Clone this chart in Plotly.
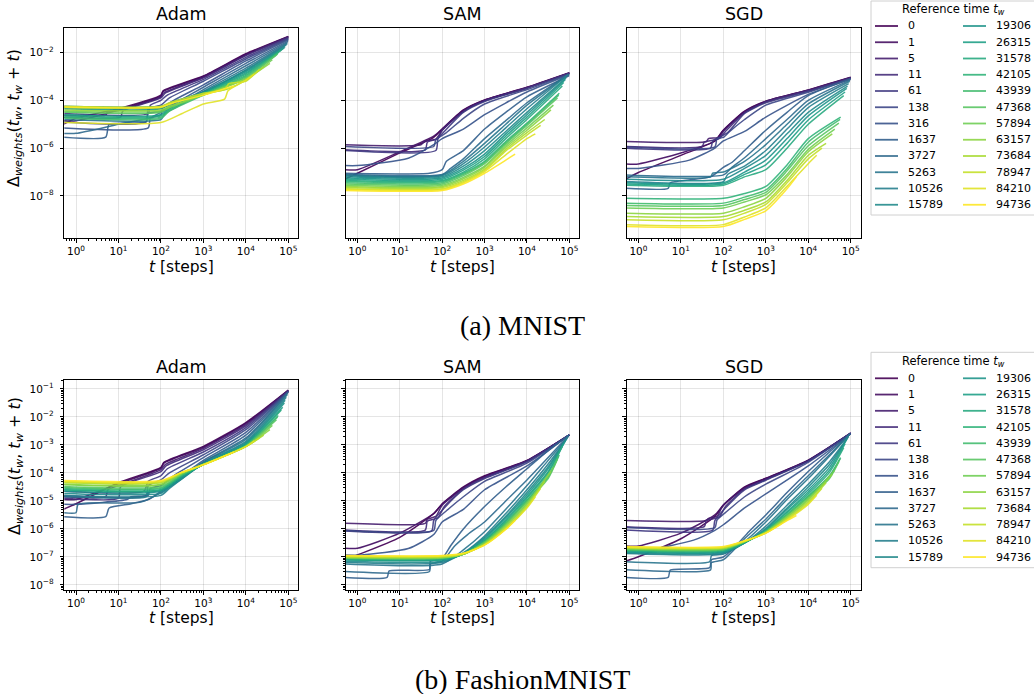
import plotly.graph_objects as go
from plotly.colors import sample_colorscale

# Reference times (legend labels)
TW = [0, 1, 5, 11, 61, 138, 316, 1637, 3727, 5263, 10526, 15789, 19306,
      26315, 31578, 42105, 43939, 47368, 57894, 63157, 73684, 78947, 84210, 94736]

# Each curve: knots (log10 t, log10 Delta), one curve per reference time
MNIST_ADAM = [
    [(-0.3,-5.0),(0,-4.75),(1,-4.35),(2,-3.78),(2.05,-3.6),(3,-2.98),(4,-2.05),(5,-1.32)],
    [(-0.3,-4.85),(0,-4.85),(1,-4.4),(2,-3.82),(2.05,-3.63),(3,-3.0),(4,-2.08),(5,-1.33)],
    [(-0.3,-4.62),(0.7,-4.62),(0.75,-4.45),(1,-4.42),(2,-3.85),(2.07,-3.68),(3,-3.03),(4,-2.1),(5,-1.35)],
    [(-0.3,-4.7),(1.05,-4.7),(1.1,-4.45),(2,-3.9),(2.1,-3.7),(3,-3.06),(4,-2.13),(5,-1.37)],
    [(-0.3,-4.55),(1.7,-4.55),(1.75,-4.2),(2,-4.0),(2.15,-3.78),(3,-3.12),(4,-2.2),(5,-1.4)],
    [(-0.3,-4.9),(1.65,-4.9),(1.7,-4.35),(2,-4.2),(2.2,-3.9),(3,-3.2),(4,-2.27),(5,-1.43)],
    [(-0.3,-5.15),(1.7,-5.15),(1.75,-4.75),(2.0,-4.6),(2.05,-4.3),(2.3,-4.0),(3,-3.35),(4,-2.35),(5,-1.47)],
    [(-0.3,-5.54),(0.7,-5.54),(0.78,-5.0),(1.65,-4.9),(1.7,-4.55),(2.0,-4.45),(2.4,-4.05),(3,-3.45),(4,-2.45),(4.993,-1.52)],
    [(-0.3,-5.38),(0.0,-5.38),(1.0,-5.0),(1.7,-4.75),(2.0,-4.5),(2.5,-4.05),(3,-3.55),(4,-2.55),(4.983,-1.57)],
    [(-0.3,-4.8),(2.0,-4.8),(2.1,-4.55),(2.5,-4.15),(3,-3.62),(4,-2.65),(4.977,-1.62)],
    [(-0.3,-4.3),(2.0,-4.3),(2.3,-4.1),(3,-3.65),(4,-2.72),(4.952,-1.68)],
    [(-0.3,-4.25),(2.0,-4.25),(2.3,-4.05),(3,-3.65),(4,-2.75),(4.925,-1.75)],
    [(-0.3,-4.35),(2.0,-4.35),(2.3,-4.1),(3,-3.68),(4,-2.8),(4.907,-1.8)],
    [(-0.3,-4.6),(2.0,-4.6),(2.2,-4.3),(3,-3.7),(4,-2.85),(4.867,-1.85)],
    [(-0.3,-4.65),(2.0,-4.65),(2.2,-4.35),(3,-3.72),(4,-2.9),(4.835,-1.9)],
    [(-0.3,-4.7),(2.0,-4.7),(2.2,-4.4),(3,-3.75),(4,-2.95),(4.763,-2.0)],
    [(-0.3,-4.75),(2.0,-4.75),(2.2,-4.45),(3,-3.78),(4,-3.0),(4.749,-2.05)],
    [(-0.3,-4.5),(2.0,-4.5),(2.2,-4.3),(3,-3.75),(4,-3.05),(4.721,-2.1)],
    [(-0.3,-4.45),(2.0,-4.45),(2.2,-4.3),(3,-3.78),(4,-3.1),(4.624,-2.3)],
    [(-0.3,-4.4),(2.0,-4.4),(2.2,-4.25),(3,-3.78),(4,-3.1),(4.566,-2.45)],
    [(-0.3,-4.3),(2.0,-4.3),(2.2,-4.15),(3,-3.75),(3.6,-3.5),(4,-3.15),(4.42,-2.6)],
    [(-0.3,-4.25),(2.0,-4.25),(2.2,-4.1),(3,-3.7),(3.5,-3.55),(3.6,-3.3),(4,-3.2),(4.323,-2.7)],
    [(-0.3,-4.93),(2.0,-4.93),(2.5,-4.55),(3,-4.15),(3.5,-3.95),(3.58,-3.6),(4,-3.15),(4.198,-2.9)],
    [(-0.3,-4.28),(2.0,-4.28),(2.3,-4.1),(3,-3.78),(3.721,-3.4)],
]

MNIST_SAM = [
    [(-0.3,-7.3),(0,-7.05),(1,-6.2),(1.8,-5.55),(2,-5.2),(2.5,-4.4),(3,-3.98),(4,-3.45),(5,-2.84)],
    [(-0.3,-6.9),(0,-6.9),(1,-6.15),(1.8,-5.5),(2,-5.2),(2.5,-4.42),(3,-3.99),(4,-3.46),(5,-2.85)],
    [(-0.3,-5.86),(1.5,-5.86),(1.6,-5.7),(1.85,-5.62),(2,-5.25),(2.5,-4.45),(3,-4.0),(4,-3.47),(5,-2.86)],
    [(-0.3,-6.07),(1.6,-6.07),(1.65,-5.75),(1.9,-5.6),(2,-5.25),(2.5,-4.47),(3,-4.02),(4,-3.48),(5,-2.86)],
    [(-0.3,-6.1),(1.85,-6.1),(1.9,-5.6),(2.05,-5.3),(2.5,-4.5),(3,-4.05),(4,-3.5),(5,-2.87)],
    [(-0.3,-5.93),(1.8,-5.93),(1.85,-5.65),(2.1,-5.35),(2.5,-4.75),(3,-4.15),(4,-3.55),(5,-2.9)],
    [(-0.3,-6.73),(0,-6.73),(1.2,-6.42),(1.8,-5.85),(2.0,-5.6),(2.5,-5.2),(3,-4.6),(4,-3.65),(5,-2.93)],
    [(-0.3,-7.05),(1.7,-7.05),(2.0,-6.9),(2.1,-6.55),(2.5,-6.1),(3,-5.2),(3.5,-4.5),(4,-3.85),(4.993,-2.97)],
    [(-0.3,-7.1),(2.0,-7.1),(2.2,-6.85),(2.5,-6.45),(3,-5.6),(3.5,-4.85),(4,-4.1),(4.983,-2.9)],
    [(-0.3,-7.12),(2.0,-7.12),(2.5,-6.55),(3,-5.8),(3.5,-5.0),(4,-4.2),(4.977,-2.92)],
    [(-0.3,-7.15),(2.0,-7.15),(2.5,-6.65),(3,-5.95),(3.5,-5.15),(4,-4.35),(4.952,-2.95)],
    [(-0.3,-7.2),(2.0,-7.2),(2.5,-6.75),(3,-6.1),(3.5,-5.3),(4,-4.5),(4.925,-3.05)],
    [(-0.3,-7.25),(2.0,-7.25),(2.5,-6.85),(3,-6.25),(3.5,-5.4),(4,-4.6),(4.907,-3.12)],
    [(-0.3,-7.3),(2.0,-7.3),(2.5,-6.92),(3,-6.35),(3.5,-5.5),(4,-4.7),(4.867,-3.25)],
    [(-0.3,-7.35),(2.0,-7.35),(2.5,-7.0),(3,-6.45),(3.5,-5.6),(4,-4.8),(4.835,-3.4)],
    [(-0.3,-7.4),(2.0,-7.4),(2.5,-7.05),(3,-6.55),(3.5,-5.72),(4,-4.95),(4.763,-3.7)],
    [(-0.3,-7.45),(2.0,-7.45),(2.5,-7.1),(3,-6.6),(3.5,-5.77),(4,-5.0),(4.749,-3.78)],
    [(-0.3,-7.5),(2.0,-7.5),(2.5,-7.15),(3,-6.65),(3.5,-5.82),(4,-5.05),(4.721,-3.9)],
    [(-0.3,-7.55),(2.0,-7.55),(2.5,-7.22),(3,-6.75),(3.5,-5.9),(4,-5.15),(4.624,-4.2)],
    [(-0.3,-7.6),(2.0,-7.6),(2.5,-7.28),(3,-6.8),(3.5,-5.97),(4,-5.25),(4.566,-4.4)],
    [(-0.3,-7.65),(2.0,-7.65),(2.5,-7.35),(3,-6.88),(3.5,-6.05),(4,-5.35),(4.42,-4.8)],
    [(-0.3,-7.7),(2.0,-7.7),(2.5,-7.4),(3,-6.93),(3.5,-6.12),(4,-5.45),(4.323,-5.05)],
    [(-0.3,-7.73),(2.0,-7.73),(2.5,-7.45),(3,-6.98),(3.5,-6.28),(4,-5.6),(4.198,-5.4)],
    [(-0.3,-7.77),(2.0,-7.77),(2.5,-7.5),(3,-7.05),(3.5,-6.5),(3.721,-6.25)],
]

MNIST_SGD = [
    [(-0.3,-7.3),(0,-7.02),(1,-6.3),(1.8,-5.7),(2,-5.25),(2.5,-4.45),(3,-4.03),(4,-3.56),(5,-3.03)],
    [(-0.3,-6.66),(0,-6.66),(1,-6.2),(1.8,-5.7),(2,-5.25),(2.5,-4.47),(3,-4.04),(4,-3.57),(5,-3.04)],
    [(-0.3,-5.72),(1.6,-5.72),(1.65,-5.6),(1.9,-5.55),(2,-5.3),(2.5,-4.5),(3,-4.05),(4,-3.58),(5,-3.05)],
    [(-0.3,-5.93),(1.5,-5.93),(1.55,-5.75),(1.9,-5.6),(2.05,-5.3),(2.5,-4.52),(3,-4.07),(4,-3.6),(5,-3.06)],
    [(-0.3,-6.0),(1.7,-6.0),(1.75,-5.7),(2.1,-5.35),(2.5,-4.55),(3,-4.1),(4,-3.62),(5,-3.07)],
    [(-0.3,-5.95),(1.8,-5.95),(1.85,-5.62),(2.0,-5.55),(2.15,-5.3),(2.5,-4.8),(3,-4.2),(4,-3.66),(5,-3.09)],
    [(-0.3,-6.85),(0,-6.85),(1.2,-6.5),(1.8,-6.0),(2.0,-5.7),(2.5,-5.3),(3,-4.7),(4,-3.75),(5,-3.12)],
    [(-0.3,-7.68),(0.7,-7.68),(0.75,-7.45),(1.7,-7.2),(2.0,-6.8),(2.2,-6.6),(2.5,-6.1),(3,-5.25),(3.5,-4.5),(4,-3.8),(4.993,-3.1)],
    [(-0.3,-7.12),(2.0,-7.12),(2.2,-6.8),(2.5,-6.4),(3,-5.6),(3.5,-4.8),(4,-4.0),(4.983,-3.15)],
    [(-0.3,-7.2),(1.7,-7.2),(1.75,-7.05),(2.0,-7.0),(2.5,-6.55),(3,-5.85),(3.5,-5.0),(4,-4.15),(4.977,-3.2)],
    [(-0.3,-7.4),(2.0,-7.4),(2.1,-7.1),(2.5,-6.75),(3,-6.1),(3.5,-5.2),(4,-4.3),(4.952,-3.3)],
    [(-0.3,-7.3),(2.0,-7.3),(2.5,-6.85),(3,-6.3),(3.5,-5.4),(4,-4.5),(4.925,-3.4)],
    [(-0.3,-7.45),(2.0,-7.45),(2.5,-7.0),(3,-6.5),(3.5,-5.6),(4,-4.65),(4.907,-3.5)],
    [(-0.3,-7.5),(2.0,-7.5),(2.5,-7.1),(3,-6.7),(3.5,-5.8),(4,-4.82),(4.867,-3.65)],
    [(-0.3,-7.55),(2.0,-7.55),(2.5,-7.2),(3,-6.9),(3.5,-6.0),(4,-5.0),(4.835,-3.8)],
    [(-0.3,-8.1),(2.0,-8.1),(2.5,-7.9),(3,-7.6),(3.5,-6.7),(4,-5.6),(4.763,-4.7)],
    [(-0.3,-8.3),(2.0,-8.3),(2.5,-8.05),(3,-7.75),(3.5,-6.85),(4,-5.75),(4.749,-4.8)],
    [(-0.3,-8.4),(2.0,-8.4),(2.5,-8.15),(3,-7.85),(3.5,-6.95),(4,-5.9),(4.721,-4.95)],
    [(-0.3,-8.5),(2.0,-8.5),(2.5,-8.25),(3,-7.95),(3.5,-7.1),(4,-6.05),(4.624,-5.2)],
    [(-0.3,-8.72),(2.0,-8.72),(2.5,-8.45),(3,-8.1),(3.5,-7.2),(4,-6.15),(4.566,-5.4)],
    [(-0.3,-8.86),(2.0,-8.86),(2.5,-8.6),(3,-8.25),(3.5,-7.35),(4,-6.3),(4.42,-5.8)],
    [(-0.3,-9.0),(2.0,-9.0),(2.5,-8.72),(3,-8.35),(3.5,-7.45),(4,-6.45),(4.323,-6.0)],
    [(-0.3,-9.2),(2.0,-9.2),(2.5,-8.88),(3,-8.5),(3.5,-7.6),(4,-6.65),(4.198,-6.3)],
    [(-0.3,-9.28),(2.0,-9.28),(2.5,-8.98),(3,-8.62),(3.5,-7.7),(3.721,-7.2)],
]

FMNIST_ADAM = [
    [(-0.3,-5.3),(0,-5.1),(1,-4.35),(2,-3.8),(2.07,-3.62),(3,-3.05),(4,-2.2),(5,-1.04)],
    [(-0.3,-4.95),(0,-4.95),(1,-4.38),(2,-3.83),(2.07,-3.65),(3,-3.08),(4,-2.23),(5,-1.05)],
    [(-0.3,-4.85),(0.7,-4.85),(0.75,-4.6),(1,-4.45),(2,-3.88),(2.1,-3.7),(3,-3.12),(4,-2.27),(5,-1.06)],
    [(-0.3,-4.9),(1.0,-4.9),(1.05,-4.5),(2,-3.95),(2.12,-3.75),(3,-3.17),(4,-2.32),(5,-1.07)],
    [(-0.3,-4.65),(1.6,-4.65),(1.7,-4.3),(2,-4.1),(2.15,-3.85),(3,-3.25),(4,-2.38),(5,-1.08)],
    [(-0.3,-4.8),(1.65,-4.8),(1.7,-4.45),(2,-4.25),(2.2,-4.0),(3,-3.35),(4,-2.45),(5,-1.09)],
    [(-0.3,-5.12),(0,-5.12),(1.2,-4.95),(1.3,-4.85),(1.7,-4.8),(1.75,-4.55),(2,-4.45),(2.3,-4.1),(3,-3.45),(4,-2.55),(5,-1.1)],
    [(-0.3,-5.56),(0.7,-5.56),(0.78,-5.25),(1.3,-5.1),(1.7,-4.95),(2.0,-4.65),(2.4,-4.2),(3,-3.55),(4,-2.65),(4.993,-1.12)],
    [(-0.3,-5.42),(0,-5.42),(0.05,-5.12),(1.5,-5.05),(2,-4.7),(2.5,-4.15),(3,-3.6),(4,-2.75),(4.983,-1.15)],
    [(-0.3,-4.85),(1.65,-4.85),(1.7,-4.7),(2.0,-4.62),(2.5,-4.15),(3,-3.62),(4,-2.8),(4.977,-1.2)],
    [(-0.3,-4.8),(2.0,-4.8),(2.2,-4.55),(2.5,-4.2),(3,-3.65),(4,-2.87),(4.952,-1.3)],
    [(-0.3,-4.73),(2.0,-4.73),(2.2,-4.5),(2.5,-4.2),(3,-3.67),(4,-2.92),(4.925,-1.4)],
    [(-0.3,-4.65),(2.0,-4.65),(2.5,-4.15),(3,-3.68),(4,-2.95),(4.907,-1.5)],
    [(-0.3,-4.6),(2.0,-4.6),(2.5,-4.12),(3,-3.69),(4,-2.98),(4.867,-1.65)],
    [(-0.3,-4.6),(2.0,-4.6),(2.5,-4.1),(3,-3.7),(4,-3.0),(4.835,-1.75)],
    [(-0.3,-4.55),(2.0,-4.55),(2.5,-4.08),(3,-3.7),(4,-3.02),(4.763,-1.95)],
    [(-0.3,-4.52),(2.0,-4.52),(2.5,-4.06),(3,-3.7),(4,-3.03),(4.749,-2.0)],
    [(-0.3,-4.48),(2.0,-4.48),(2.5,-4.04),(3,-3.7),(4,-3.04),(4.721,-2.1)],
    [(-0.3,-4.42),(2.0,-4.42),(2.5,-4.02),(3,-3.7),(4,-3.05),(4.624,-2.3)],
    [(-0.3,-4.4),(2.0,-4.4),(2.5,-4.0),(3,-3.7),(4,-3.05),(4.566,-2.45)],
    [(-0.3,-4.35),(2.0,-4.35),(2.5,-3.99),(3,-3.7),(4,-3.06),(4.42,-2.65)],
    [(-0.3,-4.32),(2.0,-4.32),(2.5,-3.98),(3,-3.7),(4,-3.06),(4.323,-2.75)],
    [(-0.3,-4.3),(2.0,-4.3),(2.5,-3.97),(3,-3.71),(4,-3.06),(4.198,-2.85)],
    [(-0.3,-4.27),(2.0,-4.27),(2.5,-3.97),(3,-3.71),(3.721,-3.25)],
]

FMNIST_SAM = [
    [(-0.3,-7.1),(0,-6.93),(1,-6.3),(1.8,-5.45),(2,-5.1),(2.5,-4.5),(3,-4.1),(4,-3.55),(5,-2.64)],
    [(-0.3,-6.69),(0,-6.69),(1,-6.15),(1.8,-5.45),(2,-5.12),(2.5,-4.52),(3,-4.12),(4,-3.56),(5,-2.64)],
    [(-0.3,-5.8),(1.6,-5.8),(1.65,-5.65),(1.85,-5.55),(2,-5.15),(2.5,-4.55),(3,-4.15),(4,-3.57),(5,-2.64)],
    [(-0.3,-6.04),(1.6,-6.04),(1.65,-5.72),(1.9,-5.6),(2.05,-5.2),(2.5,-4.57),(3,-4.17),(4,-3.58),(5,-2.64)],
    [(-0.3,-6.07),(1.75,-6.07),(1.8,-5.7),(2.05,-5.25),(2.5,-4.6),(3,-4.2),(4,-3.6),(5,-2.64)],
    [(-0.3,-6.05),(1.8,-6.05),(1.85,-5.7),(2.1,-5.35),(2.5,-4.85),(3,-4.3),(4,-3.65),(5,-2.64)],
    [(-0.3,-6.93),(0.1,-6.93),(1.2,-6.7),(1.8,-6.2),(2.0,-5.75),(2.5,-5.3),(3,-4.6),(4,-3.75),(5,-2.64)],
    [(-0.3,-7.73),(0.7,-7.73),(0.75,-7.5),(1.7,-7.45),(1.72,-7.15),(2.0,-7.05),(2.2,-6.6),(2.5,-6.0),(3,-5.2),(3.5,-4.5),(4,-3.85),(4.5,-3.2),(4.993,-2.65)],
    [(-0.3,-7.52),(1.7,-7.52),(1.72,-7.25),(2.0,-7.15),(2.3,-6.6),(2.6,-6.2),(3,-5.75),(3.5,-5.0),(4,-4.25),(4.5,-3.45),(4.983,-2.66)],
    [(-0.3,-7.25),(2.0,-7.25),(2.5,-6.75),(3,-6.1),(3.5,-5.3),(4,-4.45),(4.5,-3.55),(4.977,-2.7)],
    [(-0.3,-7.2),(2.0,-7.2),(2.5,-6.85),(3,-6.25),(3.5,-5.45),(4,-4.6),(4.5,-3.68),(4.952,-2.75)],
    [(-0.3,-7.15),(2.0,-7.15),(2.5,-6.88),(3,-6.3),(3.5,-5.55),(4,-4.7),(4.5,-3.78),(4.925,-2.8)],
    [(-0.3,-7.1),(2.0,-7.1),(2.5,-6.9),(3,-6.35),(3.5,-5.6),(4,-4.78),(4.5,-3.85),(4.907,-2.85)],
    [(-0.3,-7.1),(2.0,-7.1),(2.5,-6.9),(3,-6.4),(3.5,-5.67),(4,-4.85),(4.5,-3.95),(4.867,-2.95)],
    [(-0.3,-7.08),(2.0,-7.08),(2.5,-6.9),(3,-6.42),(3.5,-5.72),(4,-4.9),(4.5,-4.0),(4.835,-3.05)],
    [(-0.3,-7.05),(2.0,-7.05),(2.5,-6.9),(3,-6.45),(3.5,-5.78),(4,-4.97),(4.5,-4.1),(4.763,-3.35)],
    [(-0.3,-7.05),(2.0,-7.05),(2.5,-6.9),(3,-6.46),(3.5,-5.8),(4,-5.0),(4.5,-4.15),(4.749,-3.4)],
    [(-0.3,-7.04),(2.0,-7.04),(2.5,-6.9),(3,-6.48),(3.5,-5.82),(4,-5.03),(4.5,-4.2),(4.721,-3.5)],
    [(-0.3,-7.03),(2.0,-7.03),(2.5,-6.9),(3,-6.5),(3.5,-5.86),(4,-5.08),(4.624,-3.8)],
    [(-0.3,-7.02),(2.0,-7.02),(2.5,-6.9),(3,-6.52),(3.5,-5.9),(4,-5.12),(4.566,-3.95)],
    [(-0.3,-7.0),(2.0,-7.0),(2.5,-6.9),(3,-6.55),(3.5,-5.95),(4,-5.18),(4.42,-4.3)],
    [(-0.3,-6.98),(2.0,-6.98),(2.5,-6.88),(3,-6.56),(3.5,-5.98),(4,-5.22),(4.323,-4.55)],
    [(-0.3,-6.97),(2.0,-6.97),(2.5,-6.88),(3,-6.57),(3.5,-6.0),(4,-5.25),(4.198,-4.85)],
    [(-0.3,-6.95),(2.0,-6.95),(2.5,-6.87),(3,-6.58),(3.5,-6.02),(3.721,-5.7)],
]

FMNIST_SGD = [
    [(-0.3,-7.15),(0,-6.99),(1,-6.35),(1.8,-5.55),(2,-5.15),(2.5,-4.5),(3,-4.19),(4,-3.54),(5,-2.58)],
    [(-0.3,-6.61),(0,-6.61),(1,-6.15),(1.8,-5.5),(2,-5.15),(2.5,-4.52),(3,-4.2),(4,-3.55),(5,-2.58)],
    [(-0.3,-5.7),(1.6,-5.7),(1.65,-5.62),(1.85,-5.55),(2,-5.15),(2.5,-4.55),(3,-4.22),(4,-3.56),(5,-2.58)],
    [(-0.3,-5.92),(1.55,-5.92),(1.6,-5.7),(1.9,-5.58),(2.05,-5.2),(2.5,-4.57),(3,-4.24),(4,-3.57),(5,-2.58)],
    [(-0.3,-6.04),(1.75,-6.04),(1.8,-5.7),(2.05,-5.25),(2.5,-4.6),(3,-4.26),(4,-3.58),(5,-2.58)],
    [(-0.3,-5.95),(1.8,-5.95),(1.85,-5.68),(2.1,-5.35),(2.5,-4.85),(3,-4.4),(4,-3.62),(5,-2.59)],
    [(-0.3,-6.75),(0.2,-6.75),(1.3,-6.4),(1.8,-6.05),(2.0,-5.85),(2.5,-5.25),(3,-4.75),(4,-3.75),(5,-2.6)],
    [(-0.3,-7.73),(0.7,-7.73),(0.75,-7.47),(1.68,-7.38),(1.72,-7.1),(2.0,-7.0),(2.3,-6.6),(2.6,-6.1),(3,-5.5),(3.5,-4.7),(4,-3.95),(4.5,-3.25),(4.993,-2.6)],
    [(-0.3,-7.46),(1.7,-7.46),(1.72,-7.2),(2.0,-7.1),(2.5,-6.35),(3,-5.65),(3.5,-4.85),(4,-4.1),(4.5,-3.35),(4.983,-2.61)],
    [(-0.3,-7.17),(1.68,-7.17),(1.72,-6.95),(2.0,-6.9),(2.5,-6.45),(3,-5.75),(3.5,-4.95),(4,-4.2),(4.5,-3.4),(4.977,-2.62)],
    [(-0.3,-6.88),(2.0,-6.88),(2.5,-6.5),(3,-5.9),(3.5,-5.15),(4,-4.4),(4.5,-3.6),(4.952,-2.7)],
    [(-0.3,-6.85),(2.0,-6.85),(2.5,-6.5),(3,-5.98),(3.5,-5.25),(4,-4.5),(4.5,-3.7),(4.925,-2.75)],
    [(-0.3,-6.82),(2.0,-6.82),(2.5,-6.5),(3,-6.02),(3.5,-5.3),(4,-4.6),(4.5,-3.8),(4.907,-2.8)],
    [(-0.3,-6.8),(2.0,-6.8),(2.5,-6.5),(3,-6.05),(3.5,-5.38),(4,-4.68),(4.5,-3.9),(4.867,-2.95)],
    [(-0.3,-6.78),(2.0,-6.78),(2.5,-6.48),(3,-6.07),(3.5,-5.42),(4,-4.75),(4.5,-3.98),(4.835,-3.1)],
    [(-0.3,-6.75),(2.0,-6.75),(2.5,-6.47),(3,-6.08),(3.5,-5.48),(4,-4.82),(4.5,-4.1),(4.763,-3.45)],
    [(-0.3,-6.74),(2.0,-6.74),(2.5,-6.46),(3,-6.09),(3.5,-5.5),(4,-4.85),(4.5,-4.15),(4.749,-3.5)],
    [(-0.3,-6.73),(2.0,-6.73),(2.5,-6.46),(3,-6.1),(3.5,-5.52),(4,-4.88),(4.5,-4.2),(4.721,-3.6)],
    [(-0.3,-6.71),(2.0,-6.71),(2.5,-6.45),(3,-6.11),(3.5,-5.56),(4,-4.93),(4.624,-3.9)],
    [(-0.3,-6.7),(2.0,-6.7),(2.5,-6.45),(3,-6.12),(3.5,-5.58),(4,-4.97),(4.566,-4.05)],
    [(-0.3,-6.68),(2.0,-6.68),(2.5,-6.44),(3,-6.13),(3.5,-5.62),(4,-5.03),(4.42,-4.35)],
    [(-0.3,-6.66),(2.0,-6.66),(2.5,-6.44),(3,-6.14),(3.5,-5.65),(4,-5.08),(4.323,-4.55)],
    [(-0.3,-6.65),(2.0,-6.65),(2.5,-6.43),(3,-6.15),(3.5,-5.68),(4,-5.12),(4.198,-4.8)],
    [(-0.3,-6.63),(2.0,-6.63),(2.5,-6.42),(3,-6.15),(3.5,-5.7),(3.721,-5.52)],
]

OPTIMIZERS = ["Adam", "SAM", "SGD"]
DATASETS = ["(a) MNIST", "(b) FashionMNIST"]
PANELS = [MNIST_ADAM, MNIST_SAM, MNIST_SGD, FMNIST_ADAM, FMNIST_SAM, FMNIST_SGD]

# ---------------- layout geometry (screen pixels) ----------------
W, H = 1034, 694
COLS = [(64.3, 298.3), (345.7, 579.3), (626.7, 860.7)]
ROWS = [(27.5, 238.0), (380.0, 590.0)]
YRANGES = [(-9.76, -0.95), (-8.18, -0.68)]
XRANGE = (-0.276, 5.235)
FONT = "DejaVu Sans"


def fx(p):
    return p / W


def fy(p):
    return 1 - p / H


def pow10(n):
    return "10<sup>" + ("\u2212" if n < 0 else "") + str(abs(n)) + "</sup>"


COLORS = sample_colorscale("Viridis", [i / 23 for i in range(24)])

fig = go.Figure()
for p, panel in enumerate(PANELS):
    suffix = "" if p == 0 else str(p + 1)
    for i, knots in enumerate(panel):
        fig.add_trace(go.Scatter(
            x=[10 ** a for a, b in knots],
            y=[10 ** b for a, b in knots],
            mode="lines",
            line=dict(color=COLORS[i], width=1.5, shape="spline", smoothing=0.6),
            opacity=0.9,
            name=str(TW[i]),
            showlegend=False,
            hoverinfo="skip",
            xaxis="x" + suffix, yaxis="y" + suffix,
        ))

x_major = [10 ** k for k in range(0, 6)]
x_minor = [m * 10 ** d for d in range(-1, 6) for m in range(2, 10)]
y_major = [[10 ** k for k in (-8, -6, -4, -2)], [10 ** k for k in range(-8, 0)]]
y_minor = [m * 10 ** d for d in range(-10, 0) for m in range(2, 10)]

layout = dict(
    width=W, height=H,
    margin=dict(l=0, r=0, t=0, b=0),
    paper_bgcolor="white", plot_bgcolor="white",
    font=dict(family=FONT, color="black"),
    showlegend=False,
)

axis_common = dict(
    type="log", showline=True, linecolor="black", linewidth=1, mirror=True,
    ticks="outside", ticklen=3.5, tickwidth=0.8, tickcolor="black",
    showgrid=True, gridcolor="rgba(0,0,0,0.10)", gridwidth=0.8, zeroline=False,
    tickfont=dict(family=FONT, size=10.5, color="black"),
)

for p in range(6):
    r, c = divmod(p, 3)
    suffix = "" if p == 0 else str(p + 1)
    xa = dict(axis_common)
    xa.update(
        domain=[fx(COLS[c][0]), fx(COLS[c][1])],
        anchor="y" + suffix, range=list(XRANGE),
        tickmode="array", tickvals=x_major, ticktext=[pow10(k) for k in range(0, 6)],
        minor=dict(tickmode="array", tickvals=x_minor, ticks="outside", ticklen=2,
                   tickwidth=0.6, tickcolor="black", showgrid=False),
    )
    ya = dict(axis_common)
    yexp = [-8, -6, -4, -2] if r == 0 else list(range(-8, 0))
    ya.update(
        domain=[fy(ROWS[r][1]), fy(ROWS[r][0])],
        anchor="x" + suffix, range=list(YRANGES[r]),
        tickmode="array", tickvals=y_major[r], ticktext=[pow10(k) for k in yexp],
        showticklabels=(c == 0), ticklabelstandoff=4,
    )
    if r == 1:
        ya["minor"] = dict(tickmode="array", tickvals=y_minor, ticks="outside", ticklen=2,
                           tickwidth=0.6, tickcolor="black", showgrid=False)
    layout["xaxis" + suffix] = xa
    layout["yaxis" + suffix] = ya

fig.update_layout(**layout)

annotations = []
shapes = []
TITLE_Y = [14, 367]
XLABEL_Y = [267, 618]
YLABEL_Y = [118, 466]
CAPTION_Y = [325, 679]
ylabel = "\u0394<sub><i>weights</i></sub>(<i>t</i><sub><i>w</i></sub>, <i>t</i><sub><i>w</i></sub> + <i>t</i>)"
for r in range(2):
    for c in range(3):
        cx = (COLS[c][0] + COLS[c][1]) / 2
        annotations.append(dict(text=OPTIMIZERS[c], x=fx(cx), y=fy(TITLE_Y[r]), xref="paper", yref="paper",
                                xanchor="center", yanchor="middle", showarrow=False,
                                font=dict(family=FONT, size=17.5, color="black")))
        annotations.append(dict(text="<i>t</i> [steps]", x=fx(cx), y=fy(XLABEL_Y[r]), xref="paper", yref="paper",
                                xanchor="center", yanchor="middle", showarrow=False,
                                font=dict(family=FONT, size=15.5, color="black")))
    annotations.append(dict(text=ylabel, x=fx(15), y=fy(YLABEL_Y[r]), xref="paper", yref="paper",
                            xanchor="center", yanchor="middle", showarrow=False, textangle=-90,
                            font=dict(family=FONT, size=16, color="black")))
    annotations.append(dict(text=DATASETS[r], x=fx(522), y=fy(CAPTION_Y[r]), xref="paper", yref="paper",
                            xanchor="center", yanchor="middle", showarrow=False,
                            font=dict(family="Liberation Serif", size=28, color="black")))

# legends (one per row), drawn from TW and COLORS
LEG_BOX = [(1.0, 215.0), (352.3, 567.7)]
LEG_TITLE_Y = [9.5, 361.7]
LEG_FIRST = [26.0, 378.3]
LEG_STEP = 16.25
for r in range(2):
    shapes.append(dict(type="rect", xref="paper", yref="paper",
                       x0=fx(871), x1=fx(1045), y0=fy(LEG_BOX[r][1]), y1=fy(LEG_BOX[r][0]),
                       line=dict(color="#d0d0d0", width=1), fillcolor="white", layer="above"))
    annotations.append(dict(text="Reference time <i>t</i><sub><i>w</i></sub>", x=fx(953), y=fy(LEG_TITLE_Y[r]),
                            xref="paper", yref="paper", xanchor="center", yanchor="middle", showarrow=False,
                            font=dict(family=FONT, size=11.5, color="black")))
    for i, tw in enumerate(TW):
        col, row = divmod(i, 12)
        yy = LEG_FIRST[r] + row * LEG_STEP
        x0 = 875 if col == 0 else 963
        shapes.append(dict(type="line", xref="paper", yref="paper",
                           x0=fx(x0), x1=fx(x0 + 23), y0=fy(yy), y1=fy(yy),
                           line=dict(color=COLORS[i], width=1.8), opacity=0.9, layer="above"))
        annotations.append(dict(text=str(tw), x=fx(x0 + 31), y=fy(yy), xref="paper", yref="paper",
                                xanchor="left", yanchor="middle", showarrow=False,
                                font=dict(family=FONT, size=11, color="black")))

fig.update_layout(annotations=annotations, shapes=shapes)
fig.write_html("out.html", config={"displayModeBar": False},
               post_script="document.body.style.margin='0px';document.body.style.overflow='hidden';")
